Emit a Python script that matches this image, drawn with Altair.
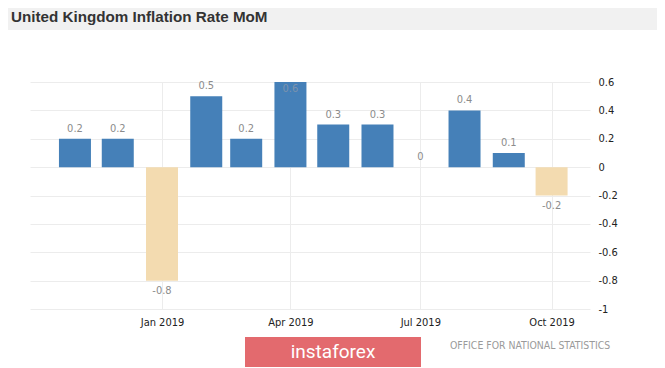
import altair as alt
import pandas as pd

months = ["2018-11-01", "2018-12-01", "2019-01-01", "2019-02-01", "2019-03-01", "2019-04-01",
          "2019-05-01", "2019-06-01", "2019-07-01", "2019-08-01", "2019-09-01", "2019-10-01"]
values = [0.2, 0.2, -0.8, 0.5, 0.2, 0.6, 0.3, 0.3, 0.0, 0.4, 0.1, -0.2]
y_ticks = [0.6, 0.4, 0.2, 0, -0.2, -0.4, -0.6, -0.8, -1]
title_text = "United Kingdom Inflation Rate MoM"
source_text = "OFFICE FOR NATIONAL STATISTICS"
logo_text = "instaforex"

df = pd.DataFrame({"date": months, "v": values, "label": ["%g" % v for v in values]})

W, H = 560, 227
PAD = {"left": 22, "top": 74, "right": 67, "bottom": 360 - 74 - 227}
FONT = "DejaVu Sans Condensed"

x_scale = alt.Scale(type="utc",
                    domain=[alt.DateTime(year=2018, month=10, date=4, utc=True),
                            alt.DateTime(year=2019, month=10, date=24, hours=10, utc=True)])
y_scale = alt.Scale(domain=[-1, 0.6], nice=False)

x_axis = alt.Axis(
    values=[alt.DateTime(year=2019, month=m, date=1, utc=True) for m in (1, 4, 7, 10)],
    labelExpr="utcFormat(datum.value, '%b %Y')",
    grid=True, gridColor="#ececec", domain=False, ticks=False,
    labelPadding=7, labelFont=FONT, labelFontSize=11, labelColor="#222",
    labelOverlap=False, title=None,
)
y_axis = alt.Axis(
    orient="right", values=y_ticks, labelExpr="'' + datum.value",
    grid=True, gridColor="#ececec", domain=False, ticks=False,
    labelPadding=8, labelFont=FONT, labelFontSize=11, labelColor="#222",
    labelOverlap=False, labelSeparation=0, title=None,
)
x_enc = alt.X("date:T", scale=x_scale, axis=x_axis)
y_enc = alt.Y("v:Q", scale=y_scale, axis=y_axis)

base = alt.Chart(df)

bars = base.mark_bar(size=32).encode(
    x=x_enc, y=y_enc,
    color=alt.condition("datum.v < 0", alt.value("#f3dbb0"), alt.value("#4580b8")),
)

lbl_font = dict(font=FONT, fontSize=11, baseline="middle", align="center")
txt_pos = base.transform_filter("datum.v >= 0 && datum.v < 0.6").mark_text(
    dy=-10, color="#8c8c8c", **lbl_font).encode(x=x_enc, y=y_enc, text="label:N")
txt_neg = base.transform_filter("datum.v < 0").mark_text(
    dy=10, color="#8c8c8c", **lbl_font).encode(x=x_enc, y=y_enc, text="label:N")
txt_top = base.transform_filter("datum.v >= 0.6").mark_text(
    dy=7, color="#7d93ad", **lbl_font).encode(x=x_enc, y=y_enc, text="label:N")

one = alt.Data(values=[{}])

band = alt.Chart(one).mark_rect(color="#f1f1f1").encode(
    x=alt.value(-22), x2=alt.value(627), y=alt.value(-74), y2=alt.value(-52))
title = alt.Chart(one).mark_text(
    text=title_text, font="Liberation Sans", fontWeight="bold", fontSize=15.2,
    color="#333", align="left", baseline="alphabetic").encode(
    x=alt.value(-19), y=alt.value(-60))

logo_box = alt.Chart(one).mark_rect(color="#e36a6e").encode(
    x=alt.value(215), x2=alt.value(391), y=alt.value(255), y2=alt.value(285))
logo = alt.Chart(one).mark_text(
    text=logo_text, font="Roboto", fontSize=19, color="white",
    align="center", baseline="middle").encode(x=alt.value(303), y=alt.value(270))
source = alt.Chart(one).mark_text(
    text=source_text, font=FONT, fontSize=10.4, color="#9a9a9a",
    align="left", baseline="middle").encode(x=alt.value(420), y=alt.value(264))

chart = alt.layer(bars, band, title, txt_pos, txt_neg, txt_top, logo_box, logo, source).properties(
    width=W, height=H, padding=PAD, autosize=alt.AutoSizeParams(type="none"),
    background="white",
).configure_view(stroke=None).configure_axis(labelOverlap=False)

chart.save("out.html", embed_options={"renderer": "svg", "actions": False})
